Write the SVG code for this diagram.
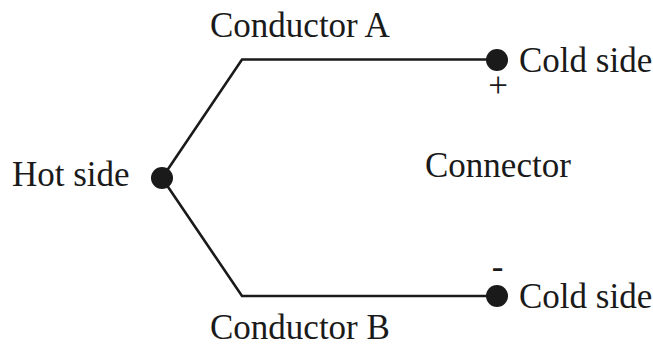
<svg xmlns="http://www.w3.org/2000/svg" width="653" height="347" viewBox="0 0 653 347">
<style>
text{font-family:"Liberation Serif","Times New Roman",serif;font-size:35px;fill:#1a1a1a}
.wire{fill:none;stroke:#1a1a1a;stroke-width:2.6}
.dot{fill:#1a1a1a}
</style>
<rect width="653" height="347" fill="#fff"/>
<g id="connectors">
<polyline class="wire" points="162,178 242,59.5 497,59.5"/>
<polyline class="wire" points="162,178 242,296 497,296"/>
</g>
<g id="hot"><circle class="dot" cx="162" cy="178" r="11"/><text x="12" y="186">Hot side</text></g>
<g id="coldA"><circle class="dot" cx="497" cy="60" r="11"/><text x="519" y="72">Cold side</text><text x="498" y="97" text-anchor="middle">+</text></g>
<g id="coldB"><circle class="dot" cx="497" cy="296" r="11"/><text x="519" y="308">Cold side</text><text x="497.5" y="277.5" text-anchor="middle">-</text></g>
<g id="condA"><text x="210" y="37">Conductor A</text></g>
<g id="condB"><text x="210" y="339">Conductor B</text></g>
<g id="conn"><text x="425" y="177">Connector</text></g>
</svg>
